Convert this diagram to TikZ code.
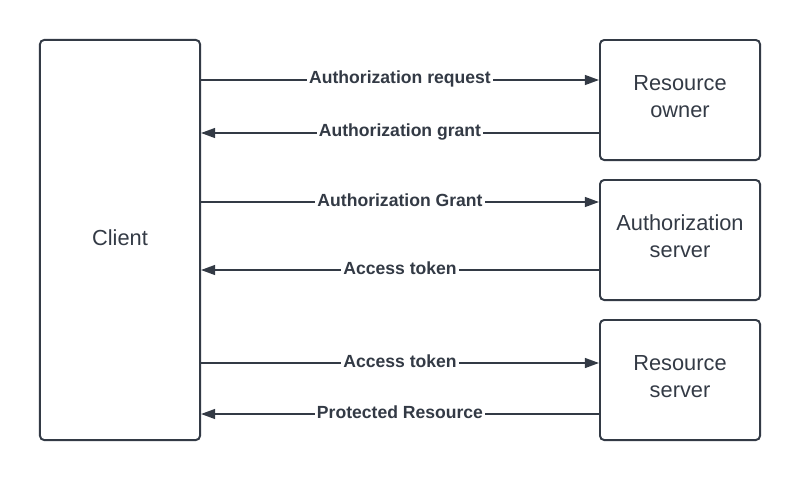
\documentclass[tikz,border=0pt]{standalone}
\usepackage{fontspec}
\setmainfont{Liberation Sans}
\usetikzlibrary{arrows.meta,positioning}
\definecolor{ink}{RGB}{51,58,69}

\begin{document}
\begin{tikzpicture}[x=0.025cm, y=-0.025cm,
  box/.style={draw=ink, line width=1.4pt, rounded corners=3pt, minimum width=4cm, minimum height=3cm, inner sep=0pt},
  boxtext/.style={text=ink, font=\fontsize{15.5}{19.5}\selectfont, align=center, yshift=2.5pt},
  flow/.style={draw=ink, line width=1.2pt, -{Triangle[length=10pt,width=7pt]}},
  msg/.style={fill=white, text=ink, font=\fontsize{12.5}{14}\bfseries\selectfont, inner sep=1.5pt, yshift=1pt}]
  \useasboundingbox (0,0) rectangle (800,480);
  \node[box, minimum height=10cm, label={[boxtext, yshift=-1pt]center:Client}] (client) at (120,240) {};
  \node[box, label={[boxtext]center:Resource\\owner}] (owner) at (680,100) {};
  \node[box, label={[boxtext]center:Authorization\\server}] (authsrv) at (680,240) {};
  \node[box, label={[boxtext]center:Resource\\server}] (ressrv) at (680,380) {};
  % requests and replies
  \draw[flow] (client.east |- {(0,80)}) -- node[msg] {Authorization request} (owner.west |- {(0,80)});
  \draw[flow] (owner.west |- {(0,133)}) -- node[msg] {Authorization grant} (client.east |- {(0,133)});
  \draw[flow] (client.east |- {(0,202)}) -- node[msg] {Authorization Grant} (authsrv.west |- {(0,202)});
  \draw[flow] (authsrv.west |- {(0,270)}) -- node[msg] {Access token} (client.east |- {(0,270)});
  \draw[flow] (client.east |- {(0,363)}) -- node[msg] {Access token} (ressrv.west |- {(0,363)});
  \draw[flow] (ressrv.west |- {(0,414)}) -- node[msg] {Protected Resource} (client.east |- {(0,414)});
\end{tikzpicture}
\end{document}
